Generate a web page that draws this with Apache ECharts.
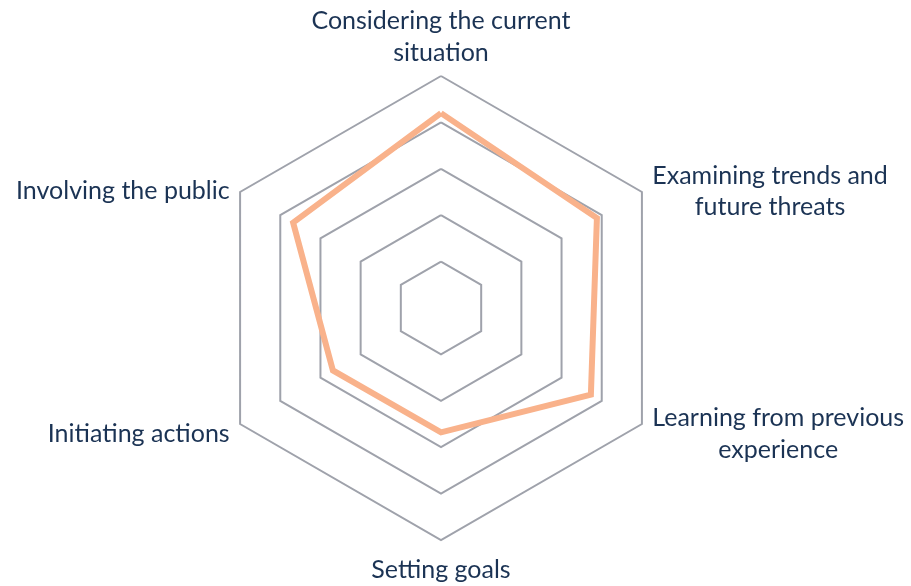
<!DOCTYPE html>
<html>
<head>
<meta charset="utf-8">
<script src="https://cdn.jsdelivr.net/npm/echarts@6/dist/echarts.min.js"></script>
<style>
  html, body { margin: 0; padding: 0; background: #fff; }
  #chart { width: 911px; height: 586px; }
</style>
</head>
<body>
<div id="chart"></div>
<script>
// indicators, counterclockwise from the top (radar default direction)
var indicatorNames = [
    "Considering the current\nsituation",
    "Involving the public",
    "Initiating actions",
    "Setting goals",
    "Learning from previous\nexperience",
    "Examining trends and\nfuture threats"
];
var indicatorMax = 5;
var seriesValues = [4.2, 3.68, 2.69, 2.68, 3.73, 3.88];

// rich styles per label (line heights tuned so the text sits like the original)
var labelStyles = [
    ["t1", "t2"],
    ["e9", "s"],
    ["e7", "s"],
    ["b"],
    ["r1", "r2"],
    ["u1", "u2"]
];

function richName(name) {
    var idx = indicatorNames.indexOf(name);
    var keys = labelStyles[idx];
    var lines = name.split("\n");
    if (keys.length > lines.length) {
        // empty spacer line first
        return "{" + keys[0] + "| }\n{" + keys[1] + "|" + lines[0] + "}";
    }
    return lines.map(function (l, i) { return "{" + keys[i] + "|" + l + "}"; }).join("\n");
}

function lh(h) {
    return { lineHeight: h, align: "center", color: "#1b3354", fontSize: 25, fontFamily: "Lato" };
}

var chart = echarts.init(document.getElementById("chart"));
var option = {
    animation: false,
    radar: {
        center: [441, 308],
        radius: 232,
        startAngle: 90,
        splitNumber: 5,
        shape: "polygon",
        indicator: indicatorNames.map(function (n) { return { name: n, max: indicatorMax }; }),
        axisName: {
            color: "#1b3354",
            fontSize: 25,
            fontFamily: "Lato",
            formatter: richName,
            rich: {
                t1: lh(42), t2: lh(22),
                u1: lh(41), u2: lh(21),
                r1: lh(40), r2: lh(24),
                e9: { lineHeight: 9, fontSize: 6 },
                e7: { lineHeight: 7, fontSize: 6 },
                s: lh(22),
                b: lh(36)
            }
        },
        nameGap: 12,
        axisLine: { show: false },
        axisTick: { show: false },
        splitArea: { show: false },
        splitLine: {
            lineStyle: { color: "#9fa2ab", width: 2 }
        }
    },
    series: [{
        type: "radar",
        symbol: "none",
        lineStyle: { color: "#f9b28b", width: 6, join: "miter" },
        data: [{ value: seriesValues }]
    }]
};
chart.setOption(option);
</script>
</body>
</html>
